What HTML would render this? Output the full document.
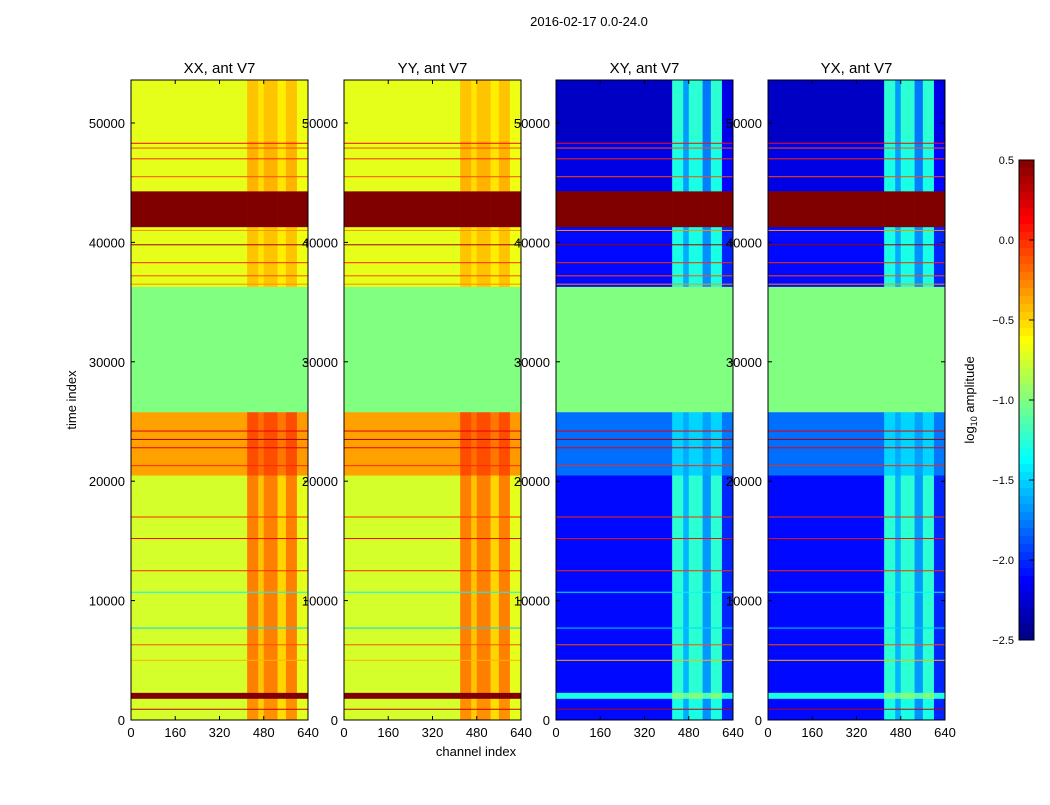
<!DOCTYPE html>
<html><head><meta charset="utf-8">
<style>
body{margin:0;background:#fff;font-family:"Liberation Sans",sans-serif;}
svg text{font-family:"Liberation Sans",sans-serif;fill:#000;}
</style></head>
<body>
<svg id="fig" width="1050" height="800" viewBox="0 0 1050 800">
<rect width="1050" height="800" fill="#fff"/>
<text x="589" y="26" font-size="13" text-anchor="middle">2016-02-17 0.0-24.0</text>
<g id="panels"></g>
<text x="476" y="756" font-size="13" text-anchor="middle">channel index</text>
<text x="0" y="0" font-size="13" text-anchor="middle" transform="translate(76,400) rotate(-90)">time index</text>
<g id="cbar"></g>
<text x="0" y="0" font-size="13" text-anchor="middle" transform="translate(974,400) rotate(-90)">log<tspan font-size="9" dy="3">10</tspan><tspan dy="-3"> amplitude</tspan></text>
</svg>
<script>
// time bands: start, end
const bandStart = [0,1800,2300,20500,25800,36300,41300,44300,48500];
const bandEnd   = [1800,2300,20500,25800,36300,41300,44300,48500,53600];
// log10 amplitude per band
const parLow  = [-0.75, 0.5,-0.75,-0.35,-1.0,-0.7,0.5,-0.7,-0.7];
const parHigh = [-0.3, 0.5,-0.25,-0.1,-1.0,-0.45,0.5,-0.4,-0.45];
const crossLow  = [-2.1,-1.3,-2.1,-1.8,-1.0,-2.1,0.5,-2.2,-2.3];
const crossHigh = [-1.3,-1.0,-1.25,-1.5,-1.0,-1.3,0.5,-1.3,-1.25];
// channel segments and weight of high-channel behaviour
const chanEdges = [0,420,460,480,530,560,600,640];
const chanWeight = [0,1,0.6,1,0.5,1,0.1];
// horizontal lines (time, value)
const lineTimes = [48300,47900,47000,45500,41000,39800,38300,37200,36500,24200,23500,22800,21300,17000,15200,12500,10700,7700,6300,5000,900];
const lineVals  = [0.1,-0.1,0.0,-0.1,-0.3,0.4,0.0,-0.1,-0.3,0.2,0.4,0.2,0.0,0.0,0.1,0.0,-1.4,-1.5,-0.1,-0.4,0.3];
const panelTitles = ["XX, ant V7","YY, ant V7","XY, ant V7","YX, ant V7"];
const panelX = [131,344,556,768];
const yTicks = [0,10000,20000,30000,40000,50000];
const xTicks = [0,160,320,480,640];
const cbTicks = [0.5,0.0,-0.5,-1.0,-1.5,-2.0,-2.5];

const PW=177, PT=80, PB=720, TMAX=53600, CMAX=640;
const ys = t => PB - (t/TMAX)*(PB-PT);
const xs = (p,c) => panelX[p] + c/CMAX*PW;
function jet(v){
  let f=(v+2.5)/3; f=Math.max(0,Math.min(1,f));
  const r=Math.max(0,Math.min(1,1.5-Math.abs(4*f-3)));
  const g=Math.max(0,Math.min(1,1.5-Math.abs(4*f-2)));
  const b=Math.max(0,Math.min(1,1.5-Math.abs(4*f-1)));
  return `rgb(${Math.round(r*255)},${Math.round(g*255)},${Math.round(b*255)})`;
}
const NS="http://www.w3.org/2000/svg";
function mk(tag,attrs,parent){const e=document.createElementNS(NS,tag);for(const k in attrs)e.setAttribute(k,attrs[k]);parent.appendChild(e);return e;}
const panels=document.getElementById('panels');
for(let p=0;p<4;p++){
  const g=mk('g',{},panels);
  
  
  const cross=p>=2;
  const lo=cross?crossLow:parLow, hi=cross?crossHigh:parHigh;
  for(let b=0;b<bandStart.length;b++){
    for(let s=0;s<chanWeight.length;s++){
      const v=lo[b]+(hi[b]-lo[b])*chanWeight[s];
      const x0=xs(p,chanEdges[s]),x1=xs(p,chanEdges[s+1]);
      const y0=ys(bandEnd[b]),y1=ys(bandStart[b]);
      const r=mk('rect',{x:x0,y:y0,width:x1-x0+0.3,height:y1-y0+0.3,fill:jet(v)},g);
      
      
    }
  }
  for(let i=0;i<lineTimes.length;i++){
    const l=mk('rect',{x:panelX[p],y:ys(lineTimes[i])-0.5,width:PW,height:1,fill:jet(lineVals[i])},g);
    
    
  }
  const fr=mk('rect',{x:panelX[p],y:PT,width:PW,height:PB-PT,fill:'none',stroke:'#000','stroke-width':1},g);
  
  
  const t=mk('text',{x:panelX[p]+PW/2,y:73,'font-size':15,'text-anchor':'middle'},g);
  t.textContent=panelTitles[p];
  
  
  for(const v of yTicks){
    const y=ys(v);
    mk('line',{x1:panelX[p],x2:panelX[p]+4,y1:y,y2:y,stroke:'#000'},g);
    mk('line',{x1:panelX[p]+PW,x2:panelX[p]+PW-4,y1:y,y2:y,stroke:'#000'},g);
    const tl=mk('text',{x:panelX[p]-6,y:y+5,'font-size':13,'text-anchor':'end'},g);
    tl.textContent=v;
    
    
  }
  for(const v of xTicks){
    const x=xs(p,v);
    mk('line',{x1:x,x2:x,y1:PB,y2:PB-4,stroke:'#000'},g);
    mk('line',{x1:x,x2:x,y1:PT,y2:PT+4,stroke:'#000'},g);
    const tl=mk('text',{x:x,y:PB+17,'font-size':13,'text-anchor':'middle'},g);
    tl.textContent=v;
    
    
  }
}
const cb=document.getElementById('cbar');
const CX=1019,CW=15,CT=160,CB=640,N=60;
for(let i=0;i<N;i++){
  const v=0.5-3*(i+0.5)/N;
  const r=mk('rect',{x:CX,y:CT+i*(CB-CT)/N,width:CW,height:(CB-CT)/N+0.5,fill:jet(v)},cb);
  
  
}
mk('rect',{x:CX,y:CT,width:CW,height:CB-CT,fill:'none',stroke:'#000'},cb);
for(const v of cbTicks){
  const y=CT+(0.5-v)/3*(CB-CT);
  mk('line',{x1:CX+CW,x2:CX+CW-5,y1:y,y2:y,stroke:'#000'},cb);
  const t=mk('text',{x:1014,y:y+4,'font-size':11,'text-anchor':'end'},cb);
  t.textContent=(v<0?'\u2212':'')+Math.abs(v).toFixed(1);
  
  
}
</script>
</body></html>
